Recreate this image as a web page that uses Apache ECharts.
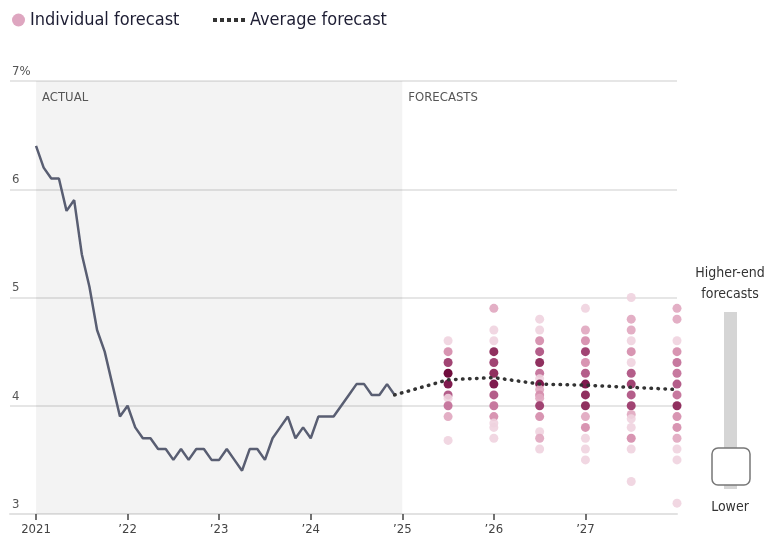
<!DOCTYPE html>
<html>
<head>
<meta charset="utf-8">
<script src="https://cdn.jsdelivr.net/npm/echarts@6/dist/echarts.min.js"></script>
<style>
  html, body { margin: 0; padding: 0; background: #fff; }
  #chart { width: 766px; height: 543px; }
</style>
</head>
<body>
<div id="chart"></div>
<script>
// monthly unemployment rate, Jan 2021 .. Dec 2024
var actualRate = [
    6.4, 6.2, 6.1, 6.1, 5.8, 5.9, 5.4, 5.1, 4.7, 4.5, 4.2, 3.9,
    4.0, 3.8, 3.7, 3.7, 3.6, 3.6, 3.5, 3.6, 3.5, 3.6, 3.6, 3.5,
    3.5, 3.6, 3.5, 3.4, 3.6, 3.6, 3.5, 3.7, 3.8, 3.9, 3.7, 3.8,
    3.7, 3.9, 3.9, 3.9, 4.0, 4.1, 4.2, 4.2, 4.1, 4.1, 4.2, 4.1
];
var actualStart = 2021;

// average forecast (starts at last actual reading)
var avgDates = [2024 + 11 / 12, 2025.5, 2026, 2026.5, 2027, 2027.5, 2028];
var avgRate = [4.1, 4.24, 4.26, 4.2, 4.19, 4.17, 4.15];

// individual forecasts: value and how many economists gave it
var forecastDates = [2025.5, 2026, 2026.5, 2027, 2027.5, 2028];
var forecastValues = [
    [4.6, 4.5, 4.4, 4.3, 4.2, 4.1, 4.07, 4.0, 3.9, 3.68],
    [4.9, 4.7, 4.6, 4.5, 4.4, 4.3, 4.2, 4.1, 4.0, 3.9, 3.84, 3.8, 3.7],
    [4.8, 4.7, 4.6, 4.5, 4.4, 4.3, 4.25, 4.2, 4.15, 4.1, 4.07, 4.0, 3.9, 3.76, 3.7, 3.6],
    [4.9, 4.7, 4.6, 4.5, 4.4, 4.3, 4.2, 4.1, 4.0, 3.9, 3.8, 3.7, 3.6, 3.5],
    [5.0, 4.8, 4.7, 4.6, 4.5, 4.4, 4.3, 4.2, 4.1, 4.0, 3.92, 3.88, 3.8, 3.7, 3.6, 3.3],
    [4.9, 4.8, 4.6, 4.5, 4.4, 4.3, 4.2, 4.1, 4.0, 3.9, 3.8, 3.7, 3.6, 3.5, 3.1]
];
var forecastCounts = [
    [1, 3, 6, 9, 8, 5, 1, 4, 2, 1],
    [2, 1, 1, 7, 6, 7, 8, 5, 4, 3, 1, 1, 1],
    [1, 1, 3, 5, 7, 4, 1, 8, 2, 3, 2, 6, 3, 1, 2, 1],
    [1, 2, 3, 6, 3, 5, 8, 7, 7, 2, 3, 1, 1, 1],
    [1, 2, 2, 1, 3, 1, 5, 6, 5, 6, 2, 1, 1, 3, 1, 1],
    [2, 2, 1, 3, 4, 4, 5, 4, 7, 3, 3, 2, 1, 1, 1]
];

var yTicks = [3, 4, 5, 6, 7];
var yearTicks = [2021, 2022, 2023, 2024, 2025, 2026, 2027];

(function () {
    var font = 'Liberation Sans Narrow, DejaVu Sans Condensed, sans-serif';
    // shade by number of economists at that value
    var shades = ['#efd3df', '#e2abc2', '#d68fae', '#c4729a', '#b05584',
                  '#9c3a6b', '#8a2556', '#780f44', '#680033'];

    var actualData = actualRate.map(function (v, i) {
        return [actualStart + i / 12, v];
    });
    var avgData = avgRate.map(function (v, i) {
        return [avgDates[i], v];
    });

    var dotData = [];
    forecastDates.forEach(function (d, i) {
        forecastValues[i].forEach(function (v, j) {
            var n = Math.min(forecastCounts[i][j], shades.length);
            dotData.push({
                value: [d, v],
                itemStyle: { color: shades[n - 1], opacity: n === 1 ? 0.9 : 0.95 }
            });
        });
    });

    var option = {
        animation: false,
        textStyle: { fontFamily: font },
        legend: [
            {
                left: 7, top: 6,
                itemWidth: 13, itemHeight: 13, itemGap: 6,
                data: [{ name: 'Individual forecast', icon: 'circle', itemStyle: { color: '#d690b0' } }],
                textStyle: { fontSize: 18, color: '#1d1d33', fontFamily: font }
            },
            {
                left: 208, top: 6,
                itemWidth: 32, itemHeight: 4,
                data: [{
                    name: 'Average forecast',
                    icon: 'path://M0,0h4v4h-4zM7,0h4v4h-4zM14,0h4v4h-4zM21,0h4v4h-4zM28,0h4v4h-4z',
                    itemStyle: { color: '#333' }
                }],
                textStyle: { fontSize: 18, color: '#1d1d33', fontFamily: font }
            }
        ],
        grid: { left: 10, right: 89, top: 81, bottom: 29 },
        xAxis: {
            type: 'value',
            min: 2021 - 26 / 91.5,
            max: 2028,
            axisLine: { show: true, lineStyle: { color: '#e2e2e2', width: 2 } },
            axisTick: {
                show: true, customValues: yearTicks, length: 6,
                lineStyle: { color: '#444', width: 1.5 }
            },
            axisLabel: {
                customValues: yearTicks, margin: 9, fontSize: 13, color: '#444',
                formatter: function (v) {
                    return v === 2021 ? '2021' : '\u2019' + String(v).slice(2);
                }
            },
            splitLine: { show: false }
        },
        yAxis: {
            type: 'value',
            min: 3, max: 7, interval: 1,
            axisLine: { show: false },
            axisTick: { show: false },
            axisLabel: {
                inside: true, margin: 2, fontSize: 13, color: '#555',
                verticalAlign: 'bottom', padding: [0, 0, 3, 0],
                formatter: function (v) { return v === 7 ? '7%' : String(v); }
            },
            splitLine: { show: true, lineStyle: { color: '#e6e6e6', width: 2 } }
        },
        series: [
            {
                name: 'Actual',
                type: 'line',
                data: actualData,
                symbol: 'none',
                lineStyle: { color: '#595e72', width: 2.5 },
                z: 3,
                markArea: {
                    silent: true,
                    itemStyle: { color: 'rgba(0,0,0,0.047)' },
                    label: {
                        position: 'insideTopLeft', distance: 7, offset: [-1, 3],
                        color: '#555', fontSize: 13, fontFamily: font
                    },
                    data: [
                        [{ name: 'ACTUAL', xAxis: 2021, yAxis: 7 }, { xAxis: 2025, yAxis: 3 }],
                        [{ name: 'FORECASTS', xAxis: 2025, yAxis: 7, itemStyle: { color: 'rgba(0,0,0,0)' } }, { xAxis: 2028, yAxis: 3 }]
                    ]
                }
            },
            {
                name: 'Individual forecast',
                type: 'scatter',
                data: dotData,
                symbolSize: 9,
                z: 4
            },
            {
                name: 'Average forecast',
                type: 'line',
                data: avgData,
                symbol: 'none',
                lineStyle: { color: '#333', width: 3.5, type: [0.5, 6.5], cap: 'round' },
                itemStyle: { color: '#333' },
                z: 5
            }
        ],
        graphic: [
            {
                type: 'text',
                style: {
                    x: 730, y: 263, text: 'Higher-end\nforecasts', align: 'center',
                    fontSize: 14, lineHeight: 21, fill: '#333', fontFamily: font
                }
            },
            {
                type: 'rect',
                shape: { x: 724, y: 312, width: 13, height: 177 },
                style: { fill: '#d5d5d5' }
            },
            {
                type: 'rect',
                shape: { x: 712, y: 448, width: 38, height: 37, r: 6 },
                style: { fill: '#fff', stroke: '#777', lineWidth: 1.5 }
            },
            {
                type: 'text',
                style: {
                    x: 730, y: 500, text: 'Lower', align: 'center',
                    fontSize: 14, fill: '#333', fontFamily: font
                }
            }
        ]
    };

    var myChart = echarts.init(document.getElementById('chart'));
    myChart.setOption(option);
})();
</script>
</body>
</html>
